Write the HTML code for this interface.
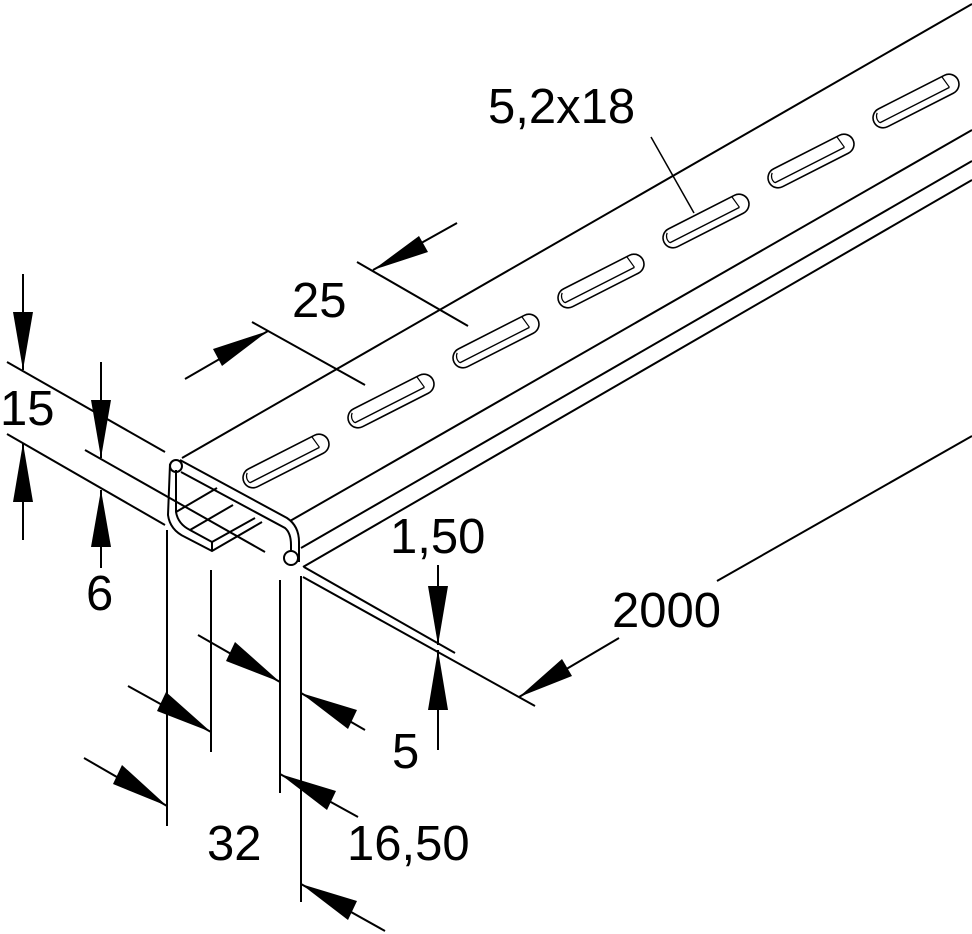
<!DOCTYPE html>
<html><head><meta charset="utf-8"><style>
html,body{margin:0;padding:0;background:#fff;}
svg{display:block;}
text{font-family:"Liberation Sans",Arial,sans-serif;font-size:49px;fill:#000;}
</style></head><body>
<svg width="972" height="934" viewBox="0 0 972 934" xmlns="http://www.w3.org/2000/svg">
<defs>
<g id="slot">
 <rect x="-47" y="-10" width="94" height="20" rx="10" ry="10" fill="none" stroke="#000" stroke-width="1.6"/>
 <line x1="-42" y1="3" x2="36" y2="3" stroke="#000" stroke-width="1.4"/>
 <path d="M-42,3 A8,8 0 0 1 -40,-7" fill="none" stroke="#000" stroke-width="1.2"/>
 <line x1="34" y1="-10" x2="36" y2="3" stroke="#000" stroke-width="1.2"/>
</g>
</defs>
<g fill="none" stroke="#000" stroke-width="2">
 <line x1="182" y1="458" x2="972" y2="4"/>
 <line x1="290" y1="521" x2="972" y2="130"/>
 <line x1="301" y1="548" x2="972" y2="161"/>
 <line x1="303" y1="567" x2="972" y2="180"/>
 <path d="M170,464 L168,515 Q170,530 185,537 L212,551 L262,522"/>
 <path d="M176,470 L176,512 Q178,524 190,530 L212,542"/>
 <line x1="212" y1="542" x2="212" y2="551"/>
 <circle cx="176" cy="466" r="6"/>
 <path d="M180,460 L287,518 Q299,526 299,542 L299,562"/>
 <path d="M181,472 L285,528 Q291,533 291,545 L291,552"/>
 <circle cx="291" cy="558" r="7"/>
 <line x1="176" y1="512" x2="217" y2="488"/>
 <line x1="190" y1="530" x2="233" y2="505"/>
 <line x1="212" y1="542" x2="255" y2="518"/>
 <line x1="252" y1="322" x2="365" y2="385"/>
 <line x1="357" y1="262" x2="468" y2="326"/>
 <line x1="185" y1="379" x2="268" y2="331"/>
 <line x1="373" y1="270" x2="457" y2="223"/>
 <line x1="651" y1="137" x2="694" y2="213" stroke-width="1.5"/>
 <line x1="7" y1="362" x2="165" y2="452"/>
 <line x1="7" y1="434" x2="165" y2="525"/>
 <line x1="85" y1="450" x2="265" y2="552"/>
 <line x1="23" y1="274" x2="23" y2="370"/>
 <line x1="23" y1="443" x2="23" y2="540"/>
 <line x1="101" y1="362" x2="101" y2="458"/>
 <line x1="101" y1="490" x2="101" y2="568"/>
 <line x1="167" y1="530" x2="167" y2="826"/>
 <line x1="211" y1="570" x2="211" y2="752"/>
 <line x1="280" y1="580" x2="280" y2="793"/>
 <line x1="301" y1="576" x2="301" y2="902"/>
 <line x1="84" y1="758" x2="167" y2="806"/>
 <line x1="128" y1="686" x2="211" y2="732"/>
 <line x1="198" y1="635" x2="280" y2="682"/>
 <line x1="301" y1="693" x2="365" y2="730"/>
 <line x1="280" y1="774" x2="358" y2="817"/>
 <line x1="301" y1="884" x2="385" y2="931"/>
 <line x1="304" y1="567" x2="455" y2="653"/>
 <line x1="303" y1="577" x2="535" y2="706"/>
 <line x1="438" y1="565" x2="438" y2="645"/>
 <line x1="438" y1="650" x2="438" y2="750"/>
 <line x1="619" y1="638" x2="519" y2="697"/>
 <line x1="717" y1="581" x2="972" y2="436"/>
</g>
<g transform="translate(286,461) rotate(-27)"><use href="#slot"/></g>
<g transform="translate(391,401) rotate(-27)"><use href="#slot"/></g>
<g transform="translate(496,341) rotate(-27)"><use href="#slot"/></g>
<g transform="translate(601,281) rotate(-27)"><use href="#slot"/></g>
<g transform="translate(706,221) rotate(-27)"><use href="#slot"/></g>
<g transform="translate(811,161) rotate(-27)"><use href="#slot"/></g>
<g transform="translate(916,101) rotate(-27)"><use href="#slot"/></g>
<g fill="#000">
 <polygon points="268,331 213,349 222,366"/>
 <polygon points="373,270 419,236 428,252"/>
 <polygon points="23,370 13,312 33,312"/>
 <polygon points="23,443 13,502 33,502"/>
 <polygon points="101,458 91,400 111,400"/>
 <polygon points="101,490 91,547 111,547"/>
 <polygon points="438,645 428,586 448,586"/>
 <polygon points="438,650 428,710 448,710"/>
 <polygon points="167,806 113,784 122,765"/>
 <polygon points="211,732 157,711 166,692"/>
 <polygon points="280,682 226,661 235,642"/>
 <polygon points="301,693 357,710 348,729"/>
 <polygon points="280,774 336,791 327,810"/>
 <polygon points="301,884 357,901 348,920"/>
 <polygon points="519,697 562,659 572,676"/>
</g>
<text x="0" y="425">15</text>
<text x="86" y="610">6</text>
<text x="292" y="317">25</text>
<text x="488" y="123">5,2x18</text>
<text x="390" y="553">1,50</text>
<text x="612" y="627">2000</text>
<text x="392" y="768">5</text>
<text x="207" y="860">32</text>
<text x="347" y="860">16,50</text>
</svg>
</body></html>
